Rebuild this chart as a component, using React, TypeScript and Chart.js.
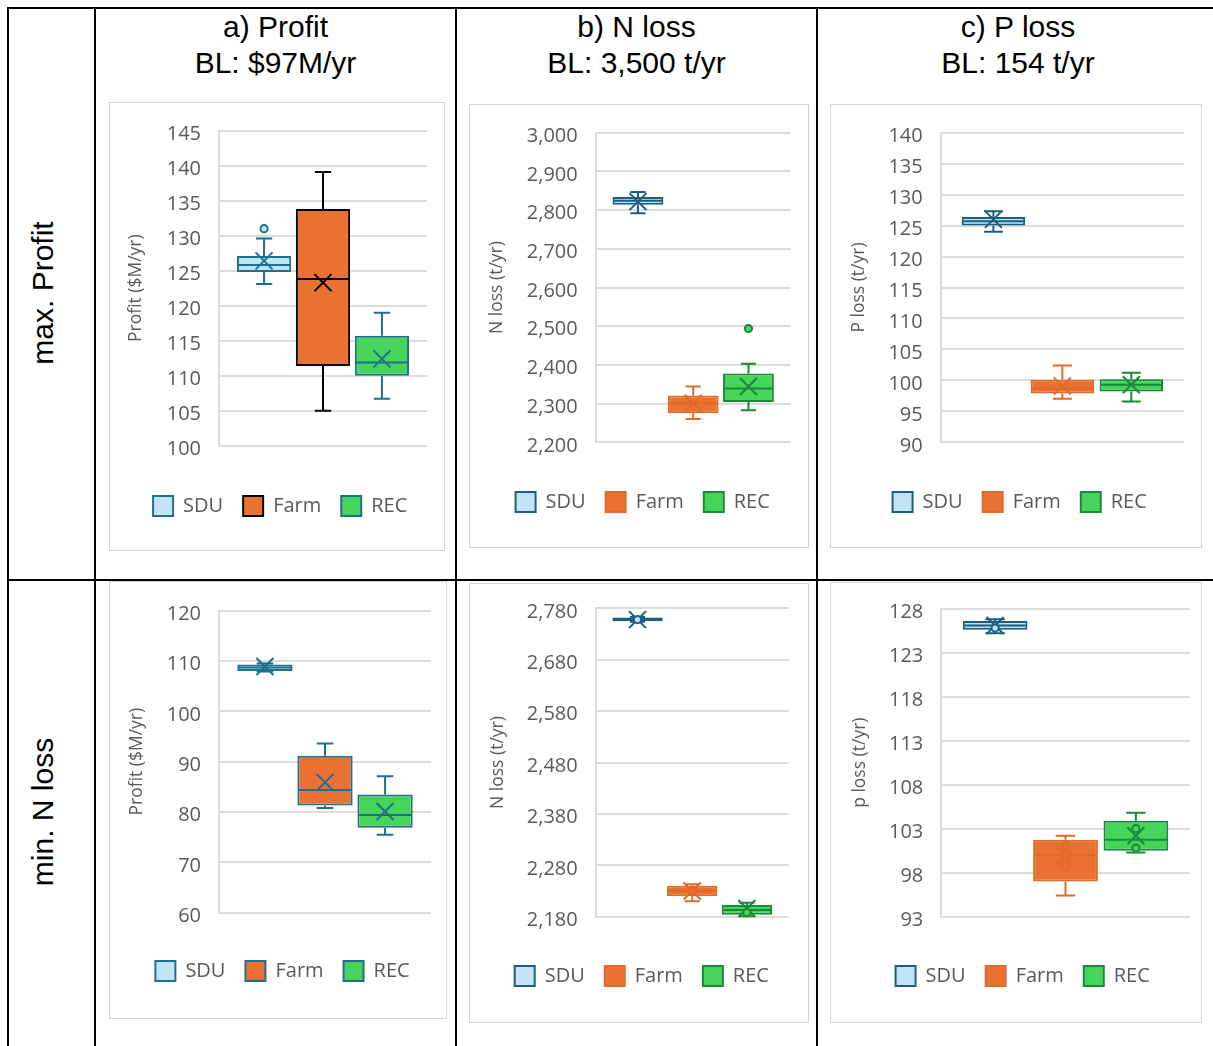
import React, { useEffect, useRef } from 'react';
import { Chart, registerables } from 'chart.js';
Chart.register(...registerables);

// ---------- DATA ----------
const SERIES = ['SDU', 'Farm', 'REC'];

const COLUMN_TITLES = [
  ['a) Profit', 'BL: $97M/yr'],
  ['b) N loss', 'BL: 3,500 t/yr'],
  ['c) P loss', 'BL: 154 t/yr'],
];
const ROW_TITLES = ['max. Profit', 'min. N loss'];

// a) Profit – max. Profit
const aMaxLow = [123.1, 105.0, 106.7];
const aMaxQ1 = [124.8, 111.4, 110.0];
const aMaxMedian = [125.8, 123.8, 111.9];
const aMaxQ3 = [127.1, 133.8, 115.7];
const aMaxHigh = [129.6, 139.1, 119.0];
const aMaxMean = [126.4, 123.3, 112.4];
const aMaxPoints = [[131.0], [], []];
const aMaxTicks = [100, 105, 110, 115, 120, 125, 130, 135, 140, 145];

// b) N loss – max. Profit
const bMaxLow = [2792, 2260, 2283];
const bMaxQ1 = [2814, 2275, 2304];
const bMaxMedian = [2824, 2302, 2339];
const bMaxQ3 = [2834, 2321, 2378];
const bMaxHigh = [2847, 2344, 2403];
const bMaxMean = [2822, 2301, 2344];
const bMaxPoints = [[], [], [2494]];
const bMaxTicks = [2200, 2300, 2400, 2500, 2600, 2700, 2800, 2900, 3000];

// c) P loss – max. Profit
const cMaxLow = [124.0, 97.05, 96.6];
const cMaxQ1 = [125.0, 97.9, 98.2];
const cMaxMedian = [125.7, 98.7, 99.3];
const cMaxQ3 = [126.4, 100.1, 100.2];
const cMaxHigh = [127.3, 102.4, 101.25];
const cMaxMean = [126.0, 99.1, 99.3];
const cMaxPoints = [[], [], []];
const cMaxTicks = [90, 95, 100, 105, 110, 115, 120, 125, 130, 135, 140];

// a) Profit – min. N loss
const aMinLow = [107.9, 80.8, 75.5];
const aMinQ1 = [108.0, 81.3, 76.9];
const aMinMedian = [108.7, 84.4, 79.4];
const aMinQ3 = [109.3, 91.2, 83.5];
const aMinHigh = [109.5, 93.6, 87.1];
const aMinMean = [108.9, 85.9, 80.1];
const aMinPoints = [[], [], []];
const aMinTicks = [60, 70, 80, 90, 100, 110, 120];

// b) N loss – min. N loss
const bMinLow = [2754, 2210, 2181];
const bMinQ1 = [2755, 2220, 2184];
const bMinMedian = [2758, 2230, 2193];
const bMinQ3 = [2762, 2240, 2203];
const bMinHigh = [2763, 2243, 2207];
const bMinMean = [2758, 2230, 2196];
const bMinPoints = [[2758], [2230], [2188]];
const bMinTicks = [2180, 2280, 2380, 2480, 2580, 2680, 2780];

// c) P loss – min. N loss
const cMinLow = [125.2, 95.4, 100.3];
const cMinQ1 = [125.6, 97.0, 100.5];
const cMinMedian = [126.1, 100.0, 101.75];
const cMinQ3 = [126.6, 101.75, 103.9];
const cMinHigh = [126.8, 102.2, 104.8];
const cMinMean = [126.1, 99.9, 102.2];
const cMinPoints = [[125.8], [101.1, 100.0, 98.8], [103.0, 100.8]];
const cMinTicks = [93, 98, 103, 108, 113, 118, 123, 128];

// ---------- STYLE ----------
const FILLS = ['#c0e4f5', '#e97132', '#47d45a'];
const BORDERS_A = ['#1f6f8f', '#000000', '#1f6f8f'];
const BORDERS_STD = ['#1b5e80', '#e06a28', '#1a8a3a'];
const BORDERS_BLUE = ['#1f6f8f', '#1f6f8f', '#1f6f8f'];
const TEXT_GRAY = '#595959';
const GRID = '#dcdcdc';
const CHART_FONT = "'Open Sans', 'Noto Sans', sans-serif";
const DOC_FONT = "'Liberation Sans', Arial, Helvetica, sans-serif";

type Stats = {
  low: number[]; q1: number[]; med: number[]; q3: number[]; high: number[]; mean: number[]; points: number[][];
};

type PanelCfg = {
  title: string;
  ticks: number[];
  stats: Stats;
  borders: string[];
  box: { left: number; top: number; width: number; height: number };
  plot: { left: number; right: number; top: number; bottom: number };
  legendCX: number;
  legendCY: number;
  titleCX: number;
};

const PANELS: PanelCfg[] = [
  {
    title: 'Profit ($M/yr)', ticks: aMaxTicks, borders: BORDERS_A,
    stats: { low: aMaxLow, q1: aMaxQ1, med: aMaxMedian, q3: aMaxQ3, high: aMaxHigh, mean: aMaxMean, points: aMaxPoints },
    box: { left: 109, top: 102, width: 336, height: 449 },
    plot: { left: 219, right: 427, top: 130.7, bottom: 445.7 },
    legendCX: 280.2, legendCY: 506, titleCX: 136.3,
  },
  {
    title: 'N loss (t/yr)', ticks: bMaxTicks, borders: BORDERS_STD,
    stats: { low: bMaxLow, q1: bMaxQ1, med: bMaxMedian, q3: bMaxQ3, high: bMaxHigh, mean: bMaxMean, points: bMaxPoints },
    box: { left: 469, top: 104, width: 340, height: 444 },
    plot: { left: 595.7, right: 790.7, top: 132.7, bottom: 442.3 },
    legendCX: 642.7, legendCY: 502, titleCX: 497.3,
  },
  {
    title: 'P loss (t/yr)', ticks: cMaxTicks, borders: BORDERS_STD,
    stats: { low: cMaxLow, q1: cMaxQ1, med: cMaxMedian, q3: cMaxQ3, high: cMaxHigh, mean: cMaxMean, points: cMaxPoints },
    box: { left: 830, top: 104, width: 372, height: 444 },
    plot: { left: 940.7, right: 1184, top: 132.7, bottom: 442.3 },
    legendCX: 1019.7, legendCY: 502, titleCX: 858.7,
  },
  {
    title: 'Profit ($M/yr)', ticks: aMinTicks, borders: BORDERS_BLUE,
    stats: { low: aMinLow, q1: aMinQ1, med: aMinMedian, q3: aMinQ3, high: aMinHigh, mean: aMinMean, points: aMinPoints },
    box: { left: 109, top: 581, width: 338, height: 438 },
    plot: { left: 219, right: 431, top: 610.7, bottom: 912.7 },
    legendCX: 282.5, legendCY: 971, titleCX: 137.3,
  },
  {
    title: 'N loss (t/yr)', ticks: bMinTicks, borders: BORDERS_STD,
    stats: { low: bMinLow, q1: bMinQ1, med: bMinMedian, q3: bMinQ3, high: bMinHigh, mean: bMinMean, points: bMinPoints },
    box: { left: 469, top: 583, width: 340, height: 440 },
    plot: { left: 595.7, right: 788.7, top: 608.3, bottom: 916.7 },
    legendCX: 641.8, legendCY: 976, titleCX: 498,
  },
  {
    title: 'p loss (t/yr)', ticks: cMinTicks, borders: BORDERS_STD,
    stats: { low: cMinLow, q1: cMinQ1, med: cMinMedian, q3: cMinQ3, high: cMinHigh, mean: cMinMean, points: cMinPoints },
    box: { left: 830, top: 582, width: 372, height: 441 },
    plot: { left: 941.3, right: 1189.7, top: 608.7, bottom: 916.7 },
    legendCX: 1022.7, legendCY: 976, titleCX: 859.7,
  },
];

const ITEM_H = 20;
const LEG_PAD = 20;
const TICK_SIZE = 20;
const LEGEND_SIZE = 20;
const TITLE_SIZE = 17.5;

function BoxChart({ cfg }: { cfg: PanelCfg }) {
  const ref = useRef<HTMLCanvasElement>(null);
  const cw = cfg.box.width - 2;
  const ch = cfg.box.height - 2;

  useEffect(() => {
    const canvas = ref.current!;
    const ox = cfg.box.left + 1;
    const oy = cfg.box.top + 1;
    const plotL = cfg.plot.left - ox;
    const plotR = cfg.plot.right - ox;
    const plotT = cfg.plot.top - oy;
    const plotB = cfg.plot.bottom - oy;
    // legend is centred in [padL, cw]; a blank right axis reserves the space right of the plot
    const padL = 2 * (cfg.legendCX - ox) - cw;
    const rightW = cw - plotR;
    const yW = plotL - padL;
    const xGap = cfg.legendCY - cfg.plot.bottom - LEG_PAD - ITEM_H / 2;
    const padB = ch - (plotB + xGap + ITEM_H + LEG_PAD + 10);
    const titleLH = TITLE_SIZE * 1.2;
    const titleOffset = cfg.titleCX - ox - padL - titleLH / 2;
    const st = cfg.stats;
    const ticks = cfg.ticks;

    const boxPlugin = {
      id: 'boxWhisker',
      afterDatasetsDraw(chart: any) {
        const ctx = chart.ctx;
        const y = chart.scales.y;
        const py = (v: number) => y.getPixelForValue(v);
        chart.data.datasets.forEach((ds: any, i: number) => {
          const el = chart.getDatasetMeta(i).data[0];
          if (!el) return;
          const x = el.x;
          const w = el.width;
          const col = ds.borderColor;
          const cap = w * 0.15;
          ctx.save();
          ctx.strokeStyle = col;
          ctx.lineWidth = 2;
          ctx.beginPath();
          // upper whisker
          ctx.moveTo(x, py(st.q3[i]));
          ctx.lineTo(x, py(st.high[i]));
          ctx.moveTo(x - cap, py(st.high[i]));
          ctx.lineTo(x + cap, py(st.high[i]));
          // lower whisker
          ctx.moveTo(x, py(st.q1[i]));
          ctx.lineTo(x, py(st.low[i]));
          ctx.moveTo(x - cap, py(st.low[i]));
          ctx.lineTo(x + cap, py(st.low[i]));
          // median
          ctx.moveTo(x - w / 2 + 1, py(st.med[i]));
          ctx.lineTo(x + w / 2 - 1, py(st.med[i]));
          ctx.stroke();
          // mean marker (X)
          const my = py(st.mean[i]);
          const s = 8.5;
          ctx.beginPath();
          ctx.moveTo(x - s, my - s);
          ctx.lineTo(x + s, my + s);
          ctx.moveTo(x + s, my - s);
          ctx.lineTo(x - s, my + s);
          ctx.stroke();
          // points
          st.points[i].forEach((v) => {
            ctx.beginPath();
            ctx.arc(x, py(v), 3.6, 0, Math.PI * 2);
            ctx.fillStyle = ds.backgroundColor;
            ctx.fill();
            ctx.stroke();
          });
          ctx.restore();
        });
      },
    };

    const chart = new Chart(canvas, {
      type: 'bar',
      data: {
        labels: [''],
        datasets: SERIES.map((name, i) => ({
          label: name,
          data: [[st.q1[i], st.q3[i]]] as any,
          backgroundColor: FILLS[i],
          borderColor: cfg.borders[i],
          borderWidth: 2,
          borderSkipped: false,
          categoryPercentage: 0.85,
          barPercentage: 0.92,
        })),
      },
      options: {
        responsive: false,
        animation: false,
        events: [],
        layout: { padding: { left: padL, right: 0, top: plotT, bottom: padB } },
        plugins: {
          tooltip: { enabled: false },
          legend: {
            position: 'bottom',
            labels: {
              boxWidth: 20,
              boxHeight: 20,
              padding: LEG_PAD,
              color: TEXT_GRAY,
              font: { family: CHART_FONT, size: LEGEND_SIZE },
            },
          },
        },
        scales: {
          x: {
            type: 'category',
            display: true,
            grid: { display: false },
            border: { display: false },
            ticks: { display: false },
            afterFit: (s: any) => {
              s.height = xGap;
              s.paddingLeft = 0;
              s.paddingRight = 0;
            },
          },
          y: {
            type: 'linear',
            min: ticks[0],
            max: ticks[ticks.length - 1],
            afterBuildTicks: (s: any) => {
              s.ticks = ticks.map((v) => ({ value: v }));
            },
            grid: { color: GRID, lineWidth: 2, drawTicks: false },
            border: { display: true, color: GRID, width: 2 },
            ticks: {
              padding: 18,
              labelOffset: 3.5,
              color: TEXT_GRAY,
              font: { family: CHART_FONT, size: TICK_SIZE },
              callback: (v: any) => Number(v).toLocaleString('en-US'),
            },
            title: {
              display: true,
              text: cfg.title,
              color: TEXT_GRAY,
              font: { family: CHART_FONT, size: TITLE_SIZE, lineHeight: 1.2 },
              padding: { top: titleOffset, bottom: 0 },
            },
            afterFit: (s: any) => {
              s.width = yW;
              s.paddingTop = 0;
              s.paddingBottom = 0;
            },
          },
          yRight: {
            type: 'linear',
            position: 'right',
            display: true,
            min: ticks[0],
            max: ticks[ticks.length - 1],
            grid: { display: false, drawTicks: false },
            border: { display: false },
            ticks: { display: false },
            afterFit: (s: any) => {
              s.width = rightW;
              s.paddingTop = 0;
              s.paddingBottom = 0;
            },
          },
        },
      } as any,
      plugins: [boxPlugin as any],
    });
    return () => chart.destroy();
  }, [cfg]);

  return (
    <div
      style={{
        position: 'absolute',
        left: cfg.box.left,
        top: cfg.box.top,
        width: cfg.box.width,
        height: cfg.box.height,
        border: '1px solid #d4d4d4',
        boxSizing: 'border-box',
        background: '#fff',
      }}
    >
      <canvas ref={ref} width={cw} height={ch} style={{ position: 'absolute', left: 0, top: 0, display: 'block' }} />
    </div>
  );
}

const LINE = '#000';

export default function App() {
  const colBounds = [
    [96, 455],
    [457, 816],
    [818, 1218],
  ];
  return (
    <div
      style={{
        position: 'absolute',
        left: 0,
        top: 0,
        width: 1213,
        height: 1046,
        overflow: 'hidden',
        background: '#fff',
        fontFamily: DOC_FONT,
      }}
    >
      {/* table lines */}
      <div style={{ position: 'absolute', left: 7, top: 7, width: 1220, height: 2, background: LINE }} />
      <div style={{ position: 'absolute', left: 7, top: 579, width: 1220, height: 2, background: LINE }} />
      <div style={{ position: 'absolute', left: 7, top: 7, width: 2, height: 1100, background: LINE }} />
      <div style={{ position: 'absolute', left: 94, top: 7, width: 2, height: 1100, background: LINE }} />
      <div style={{ position: 'absolute', left: 455, top: 7, width: 2, height: 1100, background: LINE }} />
      <div style={{ position: 'absolute', left: 816, top: 7, width: 2, height: 1100, background: LINE }} />

      {/* column headers */}
      {COLUMN_TITLES.map((lines, i) => (
        <div
          key={i}
          style={{
            position: 'absolute',
            left: colBounds[i][0],
            top: 9,
            width: colBounds[i][1] - colBounds[i][0],
            textAlign: 'center',
            fontSize: 30,
            lineHeight: '36px',
            color: '#000',
            whiteSpace: 'nowrap',
          }}
        >
          {lines.map((t, j) => (
            <div key={j}>{t}</div>
          ))}
        </div>
      ))}

      {/* row headers */}
      {ROW_TITLES.map((t, i) => {
        const cy = i === 0 ? 292.5 : 812;
        return (
          <div
            key={i}
            style={{
              position: 'absolute',
              left: 42.5 - 150,
              top: cy - 15,
              width: 300,
              height: 30,
              lineHeight: '30px',
              fontSize: 30,
              textAlign: 'center',
              transform: 'rotate(-90deg)',
              transformOrigin: '50% 50%',
              whiteSpace: 'nowrap',
              color: '#000',
            }}
          >
            {t}
          </div>
        );
      })}

      {PANELS.map((p, i) => (
        <BoxChart key={i} cfg={p} />
      ))}
    </div>
  );
}
